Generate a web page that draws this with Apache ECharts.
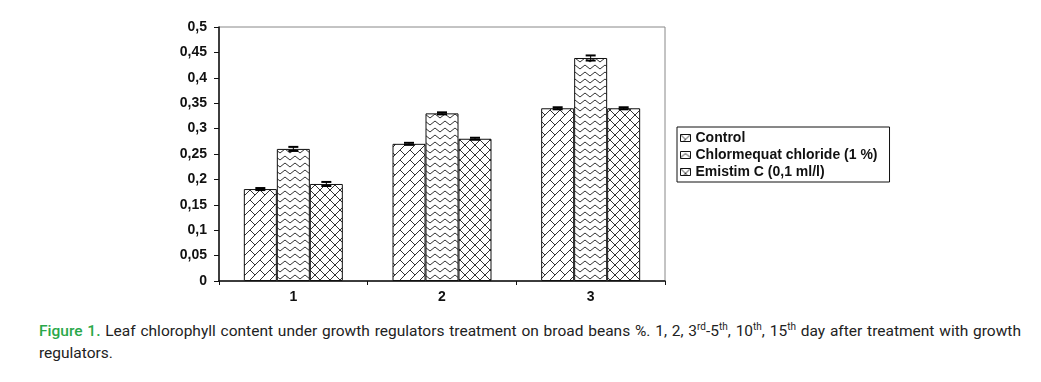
<!DOCTYPE html>
<html><head><meta charset="utf-8">
<script src="https://cdn.jsdelivr.net/npm/echarts@6/dist/echarts.min.js"></script>
<style>
html,body{margin:0;padding:0;background:#fff;}
#chart{position:absolute;left:0;top:0;width:1041px;height:310px;}
#cap{position:absolute;left:39px;top:320px;width:982px;font-family:Roboto,sans-serif;font-size:15.5px;line-height:22px;color:#222;text-align:justify;}
#cap b{color:#2aa84a;font-weight:500;}
#cap sup{font-size:10px;line-height:0;}
</style></head>
<body>
<div id="chart"></div>
<div id="cap"><b>Figure 1.</b> Leaf chlorophyll content under growth regulators treatment on broad beans %. 1, 2, 3<sup>rd</sup>-5<sup>th</sup>, 10<sup>th</sup>, 15<sup>th</sup> day after treatment with growth regulators.</div>
<script>
const categories = ['1','2','3'];
const seriesNames = ['Control','Chlormequat chloride (1 %)','Emistim C (0,1 ml/l)'];
const controlVals = [0.181, 0.270, 0.340];
const chlormequatVals = [0.260, 0.330, 0.439];
const emistimVals = [0.191, 0.280, 0.340];
const controlErr = [0.002, 0.002, 0.002];
const chlormequatErr = [0.004, 0.002, 0.005];
const emistimErr = [0.004, 0.002, 0.002];

function pat(w,h,draw){
  const c=document.createElement('canvas');c.width=w;c.height=h;
  const g=c.getContext('2d');g.fillStyle='#fff';g.fillRect(0,0,w,h);
  g.strokeStyle='#333';g.lineWidth=1;g.beginPath();draw(g);g.stroke();
  return {image:c,repeat:'repeat'};
}
const pControl=pat(10,10,g=>{g.moveTo(-1,11);g.lineTo(11,-1);g.moveTo(0,0);g.lineTo(5,5);});
const pChl=pat(10,7,g=>{g.moveTo(0,6);g.lineTo(5,2);g.lineTo(10,6);});
const pEmi=pat(10,10,g=>{g.moveTo(-1,-1);g.lineTo(11,11);g.moveTo(-1,11);g.lineTo(11,-1);});
const pats=[pControl,pChl,pEmi];
const vals=[controlVals,chlormequatVals,emistimVals];
const errs=[controlErr,chlormequatErr,emistimErr];
const BW=33;

const chart=echarts.init(document.getElementById('chart'));
const series=[];
seriesNames.forEach((n,i)=>{
  series.push({name:n,type:'bar',data:vals[i],barWidth:BW,barGap:'0%',
    itemStyle:{color:pats[i],borderColor:'#111',borderWidth:1},emphasis:{disabled:true}});
});
seriesNames.forEach((n,i)=>{
  series.push({type:'custom',z:5,
    data:vals[i].map((v,k)=>[k,v,errs[i][k]]),
    renderItem:(p,api)=>{
      const k=api.value(0),v=api.value(1),e=api.value(2);
      const hi=api.coord([k,v+e]),lo=api.coord([k,v-e]);
      const x=hi[0]+(i-1)*BW;
      return {type:'group',children:[
        {type:'line',shape:{x1:x,y1:hi[1],x2:x,y2:lo[1]},style:{stroke:'#000',lineWidth:1}},
        {type:'line',shape:{x1:x-5,y1:hi[1],x2:x+5,y2:hi[1]},style:{stroke:'#000',lineWidth:2}},
        {type:'line',shape:{x1:x-5,y1:lo[1],x2:x+5,y2:lo[1]},style:{stroke:'#000',lineWidth:2}}
      ]};
    }});
});
chart.setOption({
  animation:false,
  grid:{left:219,top:27,right:376,bottom:29,show:true,borderColor:'#888',borderWidth:1,backgroundColor:'transparent'},
  legend:{data:seriesNames,orient:'vertical',left:677,top:127,itemWidth:10,itemHeight:7,itemGap:3,icon:'rect',
    padding:[4,12,3,3],borderColor:'#111',borderWidth:1,
    textStyle:{fontFamily:'Liberation Sans',fontWeight:'bold',fontSize:14,color:'#111'},
    itemStyle:{borderColor:'#111',borderWidth:1}},
  xAxis:{type:'category',data:categories,
    axisLine:{lineStyle:{color:'#111',width:1.5}},
    axisTick:{show:true,length:4,lineStyle:{color:'#111'}},
    axisLabel:{fontFamily:'Liberation Sans',fontWeight:'bold',fontSize:14,color:'#111',margin:9}},
  yAxis:{type:'value',min:0,max:0.5,interval:0.05,
    axisLine:{show:true,lineStyle:{color:'#111',width:1.5}},
    axisTick:{show:true,length:5,lineStyle:{color:'#111'}},
    splitLine:{show:false},
    axisLabel:{fontFamily:'Liberation Sans',fontWeight:'bold',fontSize:14,color:'#111',margin:12,
      formatter:v=>String(Math.round(v*100)/100).replace('.',',')}},
  series:series
});
</script>
</body></html>
